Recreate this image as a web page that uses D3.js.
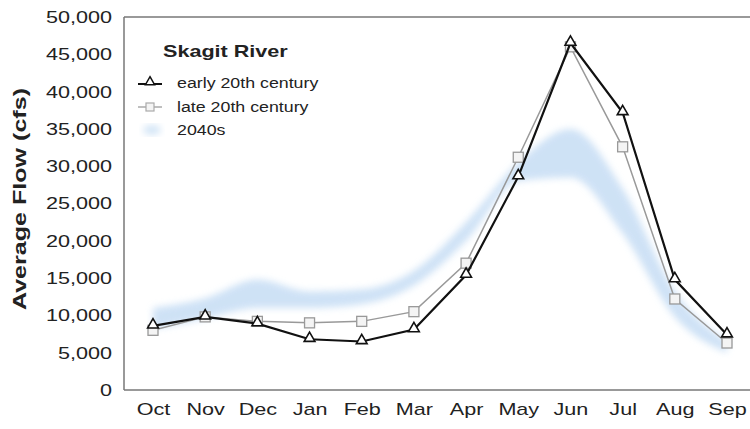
<!DOCTYPE html>
<html>
<head>
<meta charset="utf-8">
<script src="https://cdn.jsdelivr.net/npm/d3@7"></script>
<style>
  body { margin: 0; background: #fff; }
  text { font-family: "Liberation Sans", Arial, sans-serif; fill: #222; }
</style>
</head>
<body>
<script>
// data
var months = ['Oct','Nov','Dec','Jan','Feb','Mar','Apr','May','Jun','Jul','Aug','Sep'];
var early20th = [8600, 9800, 8900, 6800, 6500, 8100, 15400, 28600, 46500, 37200, 14800, 7400];
var late20th = [8000, 9800, 9200, 9000, 9200, 10500, 17000, 31200, 46000, 32600, 12200, 6300];
var lo2040s = [8200, 9600, 11000, 11000, 11500, 14000, 20000, 28000, 28500, 21000, 9800, 5000];
var hi2040s = [11000, 12300, 14800, 13200, 13500, 16000, 22500, 30500, 35000, 27000, 13200, 6500];
var yTicks = [0, 5000, 10000, 15000, 20000, 25000, 30000, 35000, 40000, 45000, 50000];

var width = 750, height = 429;
var plotLeft = 124, plotTop = 17, plotBottom = 390;
var stretch = 1.27; // the source text is wider than plain Arial

var svg = d3.select('body').append('svg')
	.attr('width', width)
	.attr('height', height);

var defs = svg.append('defs');
defs.append('filter').attr('id', 'blur')
	.attr('x', '-20%').attr('y', '-20%').attr('width', '140%').attr('height', '140%')
	.append('feGaussianBlur').attr('stdDeviation', 3.5);

var x = d3.scalePoint().domain(months).range([153, 727]);
var y = d3.scaleLinear().domain([0, 50000]).range([plotBottom, plotTop]);

// frame
svg.append('line').attr('x1', plotLeft).attr('x2', width).attr('y1', plotTop).attr('y2', plotTop)
	.attr('stroke', '#777').attr('stroke-width', 1.5);
svg.append('line').attr('x1', plotLeft).attr('x2', width).attr('y1', plotBottom).attr('y2', plotBottom)
	.attr('stroke', '#777').attr('stroke-width', 1.5);
svg.append('line').attr('x1', plotLeft).attr('x2', plotLeft).attr('y1', plotTop).attr('y2', plotBottom)
	.attr('stroke', '#777').attr('stroke-width', 1.5);

// y axis labels
var yAxis = d3.axisLeft(y).tickValues(yTicks).tickSize(0).tickPadding(12).tickFormat(d3.format(','));
var gy = svg.append('g').attr('transform', 'translate(' + plotLeft + ',0)').call(yAxis);
gy.select('.domain').remove();
gy.selectAll('text')
	.style('font-size', '17px').attr('fill', '#2a2a2a')
	.style('font-family', '"Liberation Sans", Arial, sans-serif')
	.attr('x', -12 / stretch)
	.attr('transform', 'scale(' + stretch + ',1)');

// x axis labels
var xAxis = d3.axisBottom(x).tickSize(0).tickPadding(13);
var gx = svg.append('g').attr('transform', 'translate(0,' + plotBottom + ')').call(xAxis);
gx.select('.domain').remove();
gx.selectAll('text')
	.style('font-size', '17px').attr('fill', '#2a2a2a')
	.style('font-family', '"Liberation Sans", Arial, sans-serif')
	.attr('transform', 'scale(' + stretch + ',1)');

// y title
svg.append('text')
	.attr('transform', 'translate(26,' + 199 + ') rotate(-90)')
	.attr('text-anchor', 'middle')
	.attr('textLength', 222)
	.attr('lengthAdjust', 'spacingAndGlyphs')
	.style('font-size', '19px')
	.style('font-weight', 'bold')
	.text('Average Flow (cfs)');

// 2040s band
var band = d3.area()
	.x(function(d, i) { return x(months[i]); })
	.y0(function(d, i) { return y(lo2040s[i]); })
	.y1(function(d) { return y(d); })
	.curve(d3.curveMonotoneX);

svg.append('path')
	.datum(hi2040s)
	.attr('d', band)
	.attr('fill', '#c6ddf4')
	.attr('opacity', 0.85)
	.attr('filter', 'url(#blur)');

var line = d3.line()
	.x(function(d, i) { return x(months[i]); })
	.y(function(d) { return y(d); });

// late 20th century
svg.append('path').datum(late20th).attr('d', line)
	.attr('fill', 'none').attr('stroke', '#999').attr('stroke-width', 1.5);
svg.append('g').selectAll('rect')
	.data(late20th)
	.enter()
	.append('rect')
	.attr('x', function(d, i) { return x(months[i]) - 5; })
	.attr('y', function(d) { return y(d) - 5; })
	.attr('width', 10).attr('height', 10)
	.attr('fill', '#f4f4f4').attr('stroke', '#999').attr('stroke-width', 1.3);

// early 20th century
var tri = d3.symbol().type(d3.symbolTriangle).size(50);
svg.append('path').datum(early20th).attr('d', line)
	.attr('fill', 'none').attr('stroke', '#111').attr('stroke-width', 2.2);
svg.append('g').selectAll('path')
	.data(early20th)
	.enter()
	.append('path')
	.attr('d', tri)
	.attr('transform', function(d, i) { return 'translate(' + x(months[i]) + ',' + (y(d) - 1) + ')'; })
	.attr('fill', '#fff').attr('stroke', '#111').attr('stroke-width', 1.6);

// legend
var lg = svg.append('g');
function legendText(tx, ty, size, bold, label) {
	lg.append('text')
		.attr('transform', 'translate(' + tx + ',' + ty + ') scale(' + stretch + ',1)')
		.style('font-size', size + 'px')
		.style('font-weight', bold ? 'bold' : 'normal')
		.text(label);
}
legendText(163, 57, 17, true, 'Skagit River');

lg.append('line').attr('x1', 138).attr('x2', 162).attr('y1', 84).attr('y2', 84)
	.attr('stroke', '#111').attr('stroke-width', 2);
lg.append('path').attr('d', d3.symbol().type(d3.symbolTriangle).size(36)).attr('transform', 'translate(150,82)')
	.attr('fill', '#fff').attr('stroke', '#111').attr('stroke-width', 1.5);
legendText(177, 88, 14, false, 'early 20th century');

lg.append('line').attr('x1', 138).attr('x2', 162).attr('y1', 107).attr('y2', 107)
	.attr('stroke', '#aaa').attr('stroke-width', 1.5);
lg.append('rect').attr('x', 146).attr('y', 103).attr('width', 8).attr('height', 8)
	.attr('fill', '#f4f4f4').attr('stroke', '#aaa').attr('stroke-width', 1.2);
legendText(177, 112, 14, false, 'late 20th century');

lg.append('ellipse').attr('cx', 152).attr('cy', 130).attr('rx', 9).attr('ry', 5)
	.attr('fill', '#d3e5f6').attr('filter', 'url(#blur)');
legendText(177, 135, 14, false, '2040s');
</script>
</body>
</html>
